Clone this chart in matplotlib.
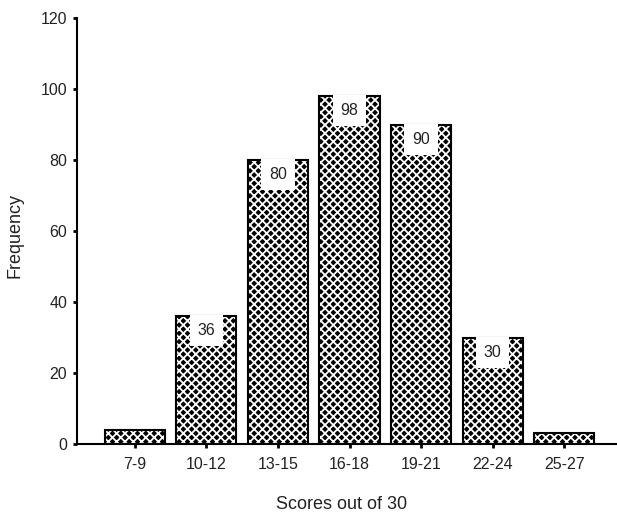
import matplotlib
matplotlib.use("Agg")
import matplotlib.pyplot as plt

categories = ["7-9", "10-12", "13-15", "16-18", "19-21", "22-24", "25-27"]
frequency = [4, 36, 80, 98, 90, 30, 3]
labelled = [False, True, True, True, True, True, False]
yticks = [0, 20, 40, 60, 80, 100, 120]

plt.rcParams['font.family'] = ['Liberation Sans', 'DejaVu Sans']
plt.rcParams['hatch.linewidth'] = 1.3

fig = plt.figure(figsize=(6.17, 5.19), dpi=100)
ax = fig.add_axes([0.1248, 0.1445, 0.8752, 0.8208])

x = list(range(len(categories)))
ax.bar(x, frequency, width=0.84, color='black', edgecolor='white', hatch='xxxx', linewidth=0, zorder=2)
ax.bar(x, frequency, width=0.84, fill=False, edgecolor='black', linewidth=1.5, zorder=3)

for xi, v, lab in zip(x, frequency, labelled):
    if lab:
        ax.annotate(str(v), (xi, v), xytext=(0, -10.5), textcoords='offset points',
                    ha='center', va='center', fontsize=11.5, color='#222222', zorder=4,
                    bbox=dict(boxstyle='square,pad=0.5', fc='white', ec='none'))

ax.set_xlim(-0.81, 6.74)
ax.set_ylim(0, 120)
ax.set_yticks(yticks)
ax.set_xticks(x)
ax.set_xticklabels(categories)
ax.tick_params(axis='both', direction='out', length=3, width=2, labelsize=11.5, colors='black',
               labelcolor='#222222')
ax.tick_params(axis='y', pad=4)
ax.tick_params(axis='x', pad=6)

for s in ['top', 'right']:
    ax.spines[s].set_visible(False)
for s in ['left', 'bottom']:
    ax.spines[s].set_linewidth(1.5)

ax.set_xlabel("Scores out of 30", fontsize=13, color='#222222', va='center')
ax.set_ylabel("Frequency", fontsize=13, color='#222222', va='center')
ax.xaxis.set_label_coords(0.49, -0.143)
ax.yaxis.set_label_coords(-0.115, 0.49)

fig.savefig("out.png", dpi=100)
